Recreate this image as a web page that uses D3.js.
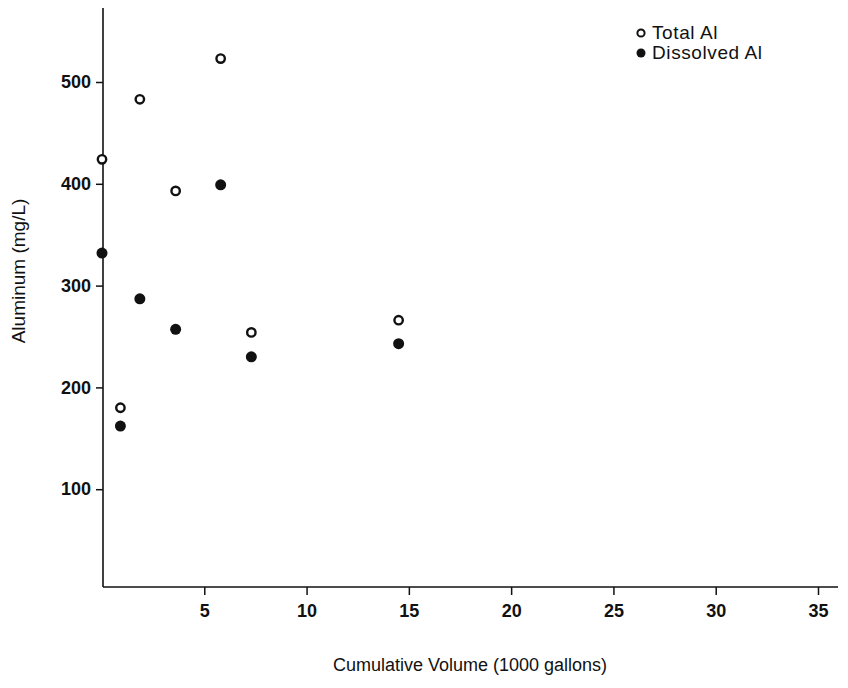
<!DOCTYPE html>
<html>
<head>
<meta charset="utf-8">
<script src="https://cdn.jsdelivr.net/npm/d3@7"></script>
<style>
  body { margin: 0; background: #fff; }
  text { font-family: "Liberation Sans", Arial, sans-serif; fill: #111; }
</style>
</head>
<body>
<svg id="chart" width="848" height="688"></svg>
<script>
// cumulative volume, 1000 gallons
const volume = [0, 0.9, 1.85, 3.6, 5.8, 7.3, 14.5];
const totalAl = [424, 180, 483, 393, 523, 254, 266];
const dissolvedAl = [332, 162, 287, 257, 399, 230, 243];
const xTicks = [5, 10, 15, 20, 25, 30, 35];
const yTicks = [100, 200, 300, 400, 500];

const svg = d3.select("#chart");

const x = d3.scaleLinear().domain([0, 35]).range([102, 818]);
const y = d3.scaleLinear().domain([0, 500]).range([591, 82]);

const axisX = 103, axisY = 587;

// axis lines
svg.append("line")
  .attr("x1", axisX).attr("x2", axisX)
  .attr("y1", 8).attr("y2", axisY)
  .attr("stroke", "#111").attr("stroke-width", 1.6);
svg.append("line")
  .attr("x1", axisX).attr("x2", 838)
  .attr("y1", axisY).attr("y2", axisY)
  .attr("stroke", "#111").attr("stroke-width", 1.6);

const gx = svg.append("g")
  .attr("transform", `translate(0,${axisY})`)
  .call(d3.axisBottom(x).tickValues(xTicks).tickSize(8).tickPadding(9));
const gy = svg.append("g")
  .attr("transform", `translate(${axisX},0)`)
  .call(d3.axisLeft(y).tickValues(yTicks).tickSize(7).tickPadding(5));

[gx, gy].forEach(g => {
  g.select(".domain").remove();
  g.selectAll("line").attr("stroke", "#111").attr("stroke-width", 1.5);
  g.selectAll("text")
    .attr("font-size", 18)
    .attr("font-weight", "bold")
    .attr("fill", "#111");
});

// axis titles
svg.append("text")
  .attr("x", 470).attr("y", 671)
  .attr("text-anchor", "middle")
  .attr("font-size", 18)
  .text("Cumulative Volume (1000 gallons)");
svg.append("text")
  .attr("transform", "translate(25,271) rotate(-90)")
  .attr("text-anchor", "middle")
  .attr("font-size", 19)
  .text("Aluminum (mg/L)");

// points
const pts = volume.map((v, i) => ({ v, total: totalAl[i], diss: dissolvedAl[i] }));

svg.append("g").selectAll("circle")
  .data(pts)
  .enter().append("circle")
  .attr("cx", d => x(d.v))
  .attr("cy", d => y(d.diss))
  .attr("r", 5.5)
  .attr("fill", "#111");

svg.append("g").selectAll("circle")
  .data(pts)
  .enter().append("circle")
  .attr("cx", d => x(d.v))
  .attr("cy", d => y(d.total))
  .attr("r", 4.2)
  .attr("fill", "#fff")
  .attr("stroke", "#111")
  .attr("stroke-width", 2.4);

// legend
const legend = svg.append("g").attr("transform", "translate(641,0)");
legend.append("circle")
  .attr("cx", 0).attr("cy", 33).attr("r", 3.6)
  .attr("fill", "#fff").attr("stroke", "#111").attr("stroke-width", 2);
legend.append("circle")
  .attr("cx", 0).attr("cy", 53).attr("r", 4.5)
  .attr("fill", "#111");
legend.append("text").attr("x", 11).attr("y", 39).attr("font-size", 19)
  .attr("letter-spacing", 0.6).text("Total Al");
legend.append("text").attr("x", 11).attr("y", 59).attr("font-size", 19)
  .attr("letter-spacing", 0.6).text("Dissolved Al");
</script>
</body>
</html>
